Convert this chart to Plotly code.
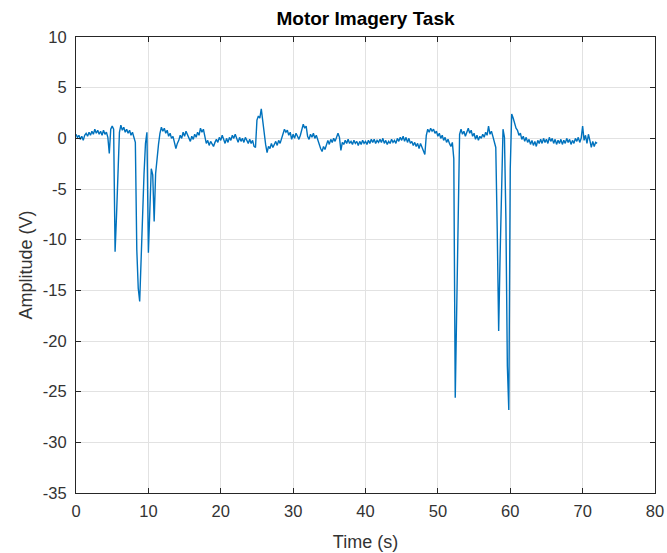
import plotly.graph_objects as go

# Sampled signal (sample period 0.2 s starting at t = 0 s), values in volts
sample_start_s = 0.0
sample_period_s = 0.2
amplitude_v = [
    0.4, 0.1, 0.3, -0.1, 0.2, -0.2, 0.3, 0.5, 0.2, 0.6,          # 0-2 s
    0.3, 0.7, 0.4, 0.9, 0.5, 0.8, 0.4, 0.7, 0.3, 0.8,            # 2-4
    0.4, 0.6, 0.1, -1.5, 0.9, 1.2, 0.9, -11.2, -7.6, -3.8,       # 4-6
    0.6, 1.3, 0.8, 1.1, 0.6, 0.9, 0.5, 0.8, 0.3, 0.6,            # 6-8
    0.1, -0.4, -11.0, -14.8, -16.1, -11.5, -7.0, -3.5, -0.5, 0.6,  # 8-10
    -11.3, -6.5, -3.0, -3.6, -8.2, -3.5, -1.6, -0.6, 0.5, 1.1,   # 10-12
    0.7, 1.0, 0.5, 0.8, 0.2, 0.5, 0.0, 0.2, -0.4, -1.0,          # 12-14
    -0.5, -0.2, 0.3, 0.0, 0.6, 0.2, 0.7, 0.3, 0.1, -0.3,         # 14-16
    0.2, -0.1, 0.4, 0.1, 0.6, 0.3, 1.0, 0.6, 0.9, 0.0,           # 16-18
    -0.5, -0.2, -0.7, -0.3, -0.6, -0.8, -0.4, -0.1, -0.4, 0.1,   # 18-20
    -0.2, 0.3, -0.1, -0.5, 0.0, -0.4, 0.1, -0.2, 0.3, 0.0,       # 20-22
    0.4, -0.1, -0.4, 0.1, -0.3, 0.0, -0.4, 0.1, -0.3, -0.5,      # 22-24
    -0.1, -0.5, -0.2, -0.8, -0.9, 1.8, 2.2, 2.0, 2.9, 1.5,       # 24-26
    0.8, -0.6, -1.4, -0.8, -1.0, -0.5, -0.9, -0.6, -0.3, -0.7,   # 26-28
    -0.2, -0.5, -0.1, 0.5, 0.9, 0.6, 0.8, 0.3, 0.6, -0.1,        # 28-30
    0.4, 0.0, 0.5, 0.2, -0.1, 0.3, 0.9, 1.4, 1.0, 1.2,           # 30-32
    0.2, -0.1, 0.4, 0.1, 0.5, 0.0, 0.3, -0.2, -0.6, -1.0,        # 32-34
    -1.3, -0.8, -1.1, -0.5, -0.2, -0.6, -0.1, -0.4, 0.0, -0.3,   # 34-36
    0.2, 0.5, 0.1, -1.2, -0.4, -0.6, -0.2, -0.5, -0.1, -0.5,     # 36-38
    -0.3, -0.6, -0.2, -0.5, -0.3, -0.7, -0.3, -0.6, -0.2, -0.5,  # 38-40
    -0.3, -0.6, -0.2, -0.5, -0.1, -0.4, -0.1, -0.5, -0.2, -0.4,  # 40-42
    -0.1, -0.4, 0.0, -0.5, -0.2, -0.6, -0.3, -0.5, -0.1, -0.4,   # 42-44
    -0.2, -0.5, 0.0, -0.3, 0.1, -0.2, 0.2, -0.3, 0.1, -0.4,      # 44-46
    0.0, -0.5, -0.3, -0.7, -0.4, -0.8, -0.5, -1.0, -0.5, -0.9,   # 46-48
    -1.1, -1.6, 0.3, 0.9, 0.6, 1.0, 0.7, 0.9, 0.5, 0.7,          # 48-50
    0.2, 0.5, 0.0, 0.3, -0.2, 0.1, -0.4, -0.1, -0.5, -0.8,       # 50-52
    -0.4, -2.0, -25.6, -17.0, -8.0, 0.4, 0.9, 0.4, 0.7, 0.2,     # 52-54
    0.6, 1.0, 0.5, 0.8, 0.2, 0.5, -0.1, 0.3, -0.2, 0.2,          # 54-56
    0.0, 0.4, 0.1, 0.6, 0.3, 1.2, 0.4, 0.7, 0.2, -0.3,           # 56-58
    -0.9, -9.0, -19.0, -11.5, -3.5, 0.9, 0.1, -8.0, -22.5, -26.8,  # 58-60
    -3.0, 2.4, 2.0, 1.5, 1.0, 0.8, 0.3, 0.5, -0.1, 0.2,          # 60-62
    -0.3, 0.1, -0.4, -0.1, -0.6, -0.2, -0.7, -0.3, -0.8, -0.2,   # 62-64
    -0.5, -0.1, -0.5, 0.0, -0.4, -0.1, -0.5, 0.1, -0.3, 0.0,     # 64-66
    -0.5, -0.1, -0.6, -0.2, -0.5, -0.1, -0.6, -0.2, -0.5, 0.0,   # 66-68
    -0.4, -0.1, -0.6, -0.2, -0.5, 0.0, -0.3, 0.1, -0.4, 0.0,     # 68-70
    1.2, -0.2, 0.3, -0.5, 0.4, -0.2, -0.9, -0.3, -0.8, -0.4,     # 70-72
    -0.5,
]

x_range = [0, 80]
y_range = [-35, 10]
x_tick_values = [0, 10, 20, 30, 40, 50, 60, 70, 80]
y_tick_values = [-35, -30, -25, -20, -15, -10, -5, 0, 5, 10]
y_tick_labels = ["-35", "-30", "-25", "-20", "-15", "-10", "-5", "0", "5", "10"]

title_text = "Motor Imagery Task"
x_label = "Time (s)"
y_label = "Amplitude (V)"

axis_color = "#262626"
text_color = "#333333"
grid_color = "#e2e2e2"
line_color = "#0072BD"
font_family = "Liberation Sans, Arial, Helvetica, sans-serif"

fig = go.Figure(
    go.Scatter(
        x0=sample_start_s,
        dx=sample_period_s,
        y=amplitude_v,
        mode="lines",
        line=dict(color=line_color, width=1.4),
        showlegend=False,
    )
)

axis_common = dict(
    showgrid=True,
    gridcolor=grid_color,
    gridwidth=1,
    zeroline=False,
    showline=True,
    linecolor=axis_color,
    linewidth=1,
    mirror="ticks",
    ticks="inside",
    ticklen=5,
    tickcolor=axis_color,
    tickfont=dict(size=16.5, color=text_color, family=font_family),
    automargin=False,
)

fig.update_layout(
    width=667,
    height=553,
    margin=dict(l=76, r=12, t=37, b=60),
    paper_bgcolor="white",
    plot_bgcolor="white",
    font=dict(family=font_family, color=axis_color),
    title=dict(
        text="<b>" + title_text + "</b>",
        font=dict(size=19, color="black", family=font_family),
        x=0.5,
        xref="paper",
        xanchor="center",
        y=1 - 18 / 553,
        yref="container",
        yanchor="middle",
    ),
    xaxis=dict(
        range=x_range,
        tickmode="array",
        tickvals=x_tick_values,
        ticklabelstandoff=3,
        title=dict(text=x_label, font=dict(size=18, color=text_color), standoff=16),
        **axis_common,
    ),
    yaxis=dict(
        range=y_range,
        tickmode="array",
        tickvals=y_tick_values,
        ticktext=y_tick_labels,
        ticklabelstandoff=5,
        title=dict(text=y_label, font=dict(size=18, color=text_color), standoff=5),
        **axis_common,
    ),
)

fig.write_html("out.html")
